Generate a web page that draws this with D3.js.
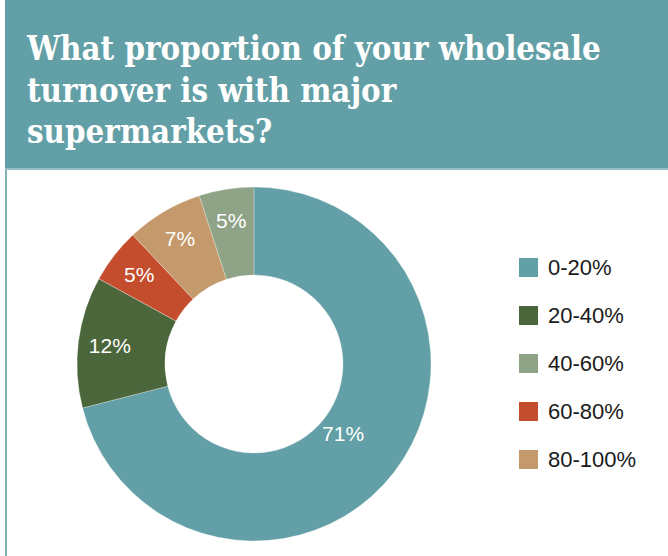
<!DOCTYPE html>
<html>
<head>
<meta charset="utf-8">
<script src="https://cdn.jsdelivr.net/npm/d3@7"></script>
<style>
  html, body { margin: 0; padding: 0; background: #ffffff; }
  svg { display: block; }
</style>
</head>
<body>
<svg id="chart" width="668" height="556"></svg>
<script>
// Survey answers, in drawing order (clockwise from 12 o'clock)
const categories = ["0-20%", "20-40%", "60-80%", "80-100%", "40-60%"];
const shares = [71, 12, 5, 7, 5];
// Legend order
const legendOrder = ["0-20%", "20-40%", "40-60%", "60-80%", "80-100%"];
const titleLines = ["What proportion of your wholesale", "turnover is with major", "supermarkets?"];

const colors = {
  "0-20%": "#629fa6",
  "20-40%": "#4b663b",
  "40-60%": "#8fa387",
  "60-80%": "#c34d2c",
  "80-100%": "#c4996b"
};

const svg = d3.select("#chart");
const W = 668, H = 556;

// Header band
svg.append("rect").attr("x", 5).attr("y", 0).attr("width", W - 5).attr("height", 169)
  .attr("fill", "#629fa6");
svg.append("rect").attr("x", 5).attr("y", 168).attr("width", W - 5).attr("height", 2)
  .attr("fill", "#93c0c4");
// Left rule down the card
svg.append("rect").attr("x", 5).attr("y", 170).attr("width", 2).attr("height", H - 170)
  .attr("fill", "#7fb0b5");

// Title
const title = svg.append("g");
titleLines.forEach((t, i) => {
  title.append("text")
    .attr("x", 27).attr("y", 60 + i * 41.5)
    .attr("fill", "#ffffff")
    .attr("font-family", "'DejaVu Serif Condensed', 'DejaVu Serif', serif")
    .attr("font-stretch", "condensed")
    .attr("font-weight", "bold")
    .attr("font-size", 30)
    .text(t);
});
// Fit the first line to its set width
const first = title.select("text").node();
const fs = 30 * 574 / first.getComputedTextLength();
title.selectAll("text").attr("font-size", fs);

// Donut
const cx = 254, cy = 364, outerR = 177, innerR = 89;
const pie = d3.pie().sort(null).value(d => d.value);
const data = categories.map((c, i) => ({ name: c, value: shares[i] }));
const arcs = pie(data);
const arc = d3.arc().innerRadius(innerR).outerRadius(outerR);

const g = svg.append("g").attr("transform", `translate(${cx},${cy})`);
g.selectAll("path").data(arcs).join("path")
  .attr("d", arc)
  .attr("fill", d => colors[d.data.name])
  .attr("stroke", "#ffffff")
  .attr("stroke-width", 0.3);

// Slice labels: the large slice keeps its label nearer the hole
g.selectAll("text.lbl").data(arcs).join("text")
  .attr("class", "lbl")
  .attr("transform", d => {
    const k = d.data.value > 50 ? 0.27 : 0.64;
    const r = innerR + (outerR - innerR) * k;
    const a = (d.startAngle + d.endAngle) / 2;
    return `translate(${Math.sin(a) * r},${-Math.cos(a) * r})`;
  })
  .attr("text-anchor", "middle")
  .attr("dy", "0.36em")
  .attr("fill", "#ffffff")
  .attr("font-family", "'Liberation Sans', Arial, sans-serif")
  .attr("font-size", 21)
  .text(d => d.data.value + "%");

// Legend
const legend = svg.append("g").attr("transform", "translate(519,258)");
const rows = legend.selectAll("g").data(legendOrder).join("g")
  .attr("transform", (d, i) => `translate(0,${i * 48})`);
rows.append("rect").attr("width", 19).attr("height", 19).attr("fill", d => colors[d]);
rows.append("text")
  .attr("x", 29).attr("y", 9.5).attr("dy", "0.36em")
  .attr("fill", "#1a1a1a")
  .attr("font-family", "'Liberation Sans', Arial, sans-serif")
  .attr("font-size", 22)
  .text(d => d);
</script>
</body>
</html>
